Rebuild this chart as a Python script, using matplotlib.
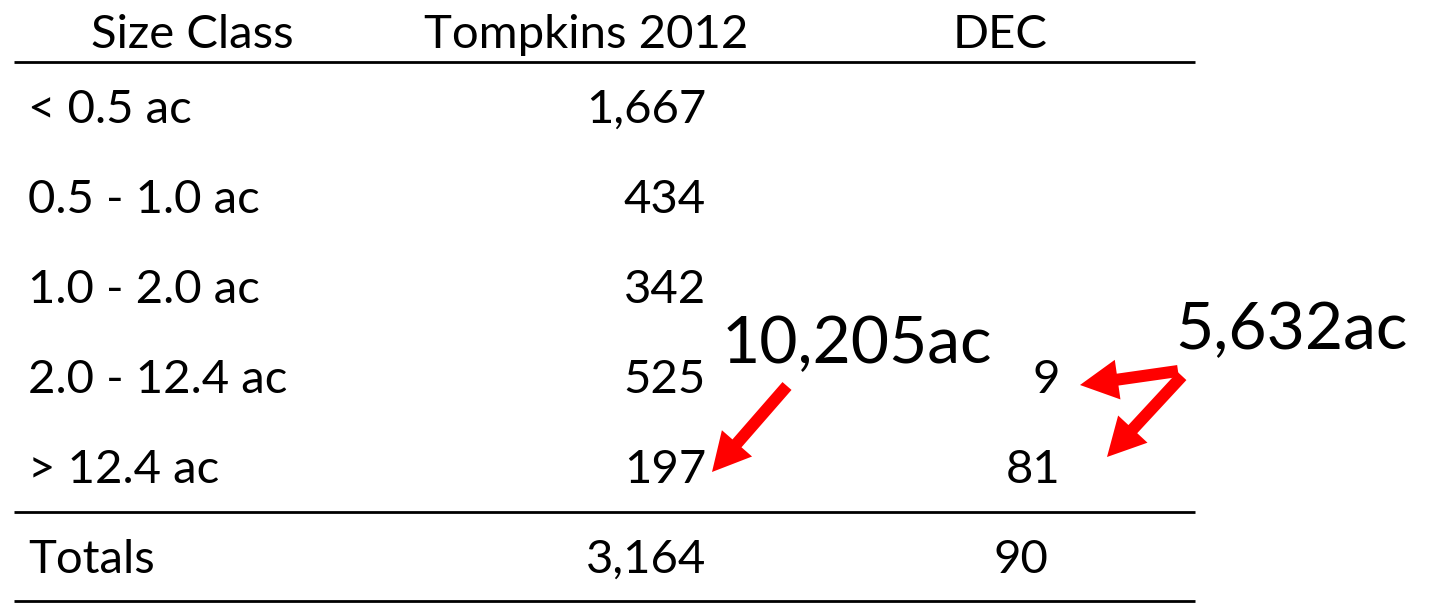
import matplotlib.pyplot as plt
from matplotlib.patches import FancyArrow

# table content
headers = ["Size Class", "Tompkins 2012", "DEC"]
size_classes = ["< 0.5 ac", "0.5 - 1.0 ac", "1.0 - 2.0 ac", "2.0 - 12.4 ac", "> 12.4 ac"]
tompkins = ["1,667", "434", "342", "525", "197"]
dec = ["", "", "", "9", "81"]
totals = ["Totals", "3,164", "90"]
area_tompkins = "10,205ac"
area_dec = "5,632ac"

font = "Lato"
fs = 34

fig = plt.figure(figsize=(14.31, 6.06), dpi=100)
ax = fig.add_axes([0, 0, 1, 1])
ax.set_xlim(0, 1431)
ax.set_ylim(606, 0)
ax.axis("off")

# header
ax.text(192, 48, headers[0], ha="center", va="baseline", fontsize=fs, family=font)
ax.text(586, 48, headers[1], ha="center", va="baseline", fontsize=fs, family=font)
ax.text(1000, 48, headers[2], ha="center", va="baseline", fontsize=fs, family=font)

# rules
for y in [62, 512, 601]:
    ax.plot([14, 1195], [y, y], color="black", lw=2, solid_capstyle="butt")

# body rows
for i, (lab, t, d) in enumerate(zip(size_classes, tompkins, dec)):
    yb = 123 + i * 90
    ax.text(28, yb, lab, ha="left", va="baseline", fontsize=fs, family=font)
    ax.text(706, yb, t, ha="right", va="baseline", fontsize=fs, family=font)
    if d:
        ax.text(1060, yb, d, ha="right", va="baseline", fontsize=fs, family=font)

# totals
ax.text(28, 573, totals[0], ha="left", va="baseline", fontsize=fs, family=font)
ax.text(706, 573, totals[1], ha="right", va="baseline", fontsize=fs, family=font)
ax.text(1048, 573, totals[2], ha="right", va="baseline", fontsize=fs, family=font)

# area annotations
ax.text(722, 363, area_tompkins, ha="left", va="baseline", fontsize=47.5, family=font)
ax.text(1175, 349, area_dec, ha="left", va="baseline", fontsize=47.5, family=font)

def arrow(x0, y0, x1, y1):
    ax.add_patch(FancyArrow(x0, y0, x1 - x0, y1 - y0, width=12, head_width=40,
                            head_length=38, length_includes_head=True,
                            color="red", lw=0))

arrow(787, 386, 712, 472)
arrow(1178, 371, 1080, 385)
arrow(1182, 376, 1107, 457)

fig.savefig("out.png", dpi=100)
